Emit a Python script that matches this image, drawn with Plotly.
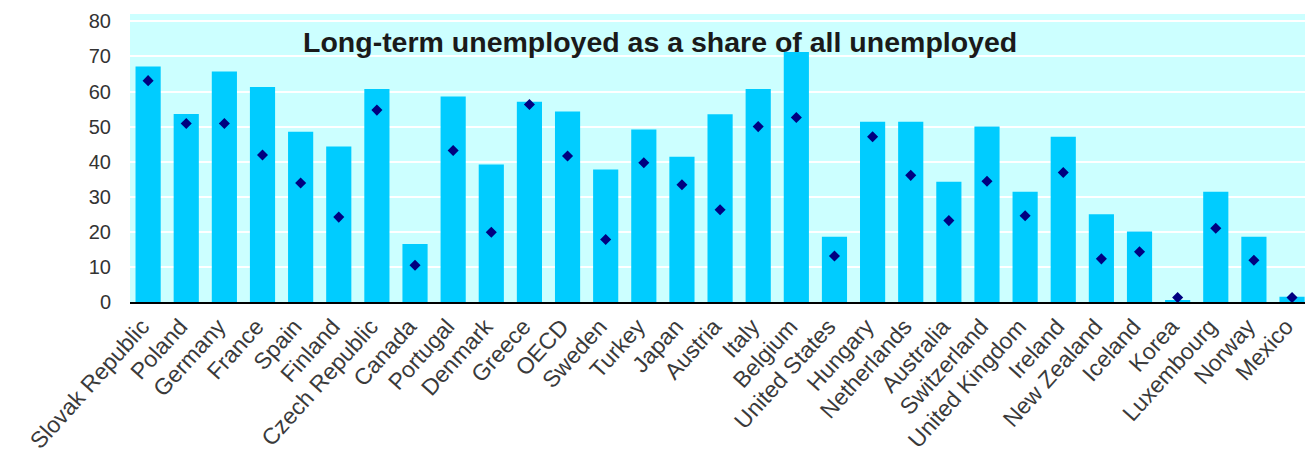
import plotly.graph_objects as go

countries = [
    "Slovak Republic", "Poland", "Germany", "France", "Spain", "Finland",
    "Czech Republic", "Canada", "Portugal", "Denmark", "Greece", "OECD",
    "Sweden", "Turkey", "Japan", "Austria", "Italy", "Belgium",
    "United States", "Hungary", "Netherlands", "Australia", "Switzerland",
    "United Kingdom", "Ireland", "New Zealand", "Iceland", "Korea",
    "Luxembourg", "Norway", "Mexico",
]

# Long-term unemployed share (%), bars
share_bar = [
    67.1, 53.6, 65.7, 61.3, 48.5, 44.3, 60.7, 16.5, 58.6, 39.2, 57.1, 54.3,
    37.8, 49.2, 41.4, 53.5, 60.7, 71.3, 18.6, 51.4, 51.4, 34.3, 50.0,
    31.4, 47.1, 25.0, 20.1, 0.3, 31.4, 18.6, 1.5,
]

# Comparison values, diamond markers
share_marker = [
    63.1, 50.9, 50.9, 41.9, 33.9, 24.2, 54.7, 10.5, 43.2, 19.9, 56.3, 41.6,
    17.8, 39.7, 33.4, 26.3, 50.0, 52.6, 13.1, 47.1, 36.1, 23.2, 34.4,
    24.6, 36.9, 12.3, 14.3, 1.3, 21.0, 11.9, 1.3,
]

y_ticks = [0, 10, 20, 30, 40, 50, 60, 70, 80]

font_family = "Liberation Sans, Arial, sans-serif"

fig = go.Figure()
fig.add_trace(go.Bar(
    x=countries, y=share_bar,
    marker=dict(color="#00CCFF", line=dict(width=0)),
    showlegend=False,
))
fig.add_trace(go.Scatter(
    x=countries, y=share_marker, mode="markers",
    marker=dict(symbol="diamond", size=8.5, color="#000080"),
    showlegend=False, cliponaxis=False,
))

fig.add_annotation(
    text="<b>Long-term unemployed as a share of all unemployed</b>",
    xref="paper", yref="paper", x=0.451, y=0.903,
    xanchor="center", yanchor="middle", showarrow=False,
    font=dict(family=font_family, size=28.5, color="#1a1a1a"),
)

fig.update_layout(
    width=1305, height=456,
    margin=dict(l=130, r=0, t=14, b=154),
    paper_bgcolor="white",
    plot_bgcolor="#CCFFFF",
    bargap=0.34,
    font=dict(family=font_family, color="#333333"),
    xaxis=dict(
        range=[-0.475, 30.34],
        tickangle=-48,
        tickfont=dict(size=23, color="#3a3a3a"),
        showgrid=False,
        showline=True, linecolor="black", linewidth=2,
        ticks="", ticklabelshift=-6,
    ),
    yaxis=dict(
        range=[0, 82.1],
        tickvals=y_ticks,
        tickfont=dict(size=20, color="#333333"),
        showgrid=True, gridcolor="white", gridwidth=2,
        zeroline=False,
        ticks="", ticklabelstandoff=18,
    ),
)

fig.write_html("out.html")
